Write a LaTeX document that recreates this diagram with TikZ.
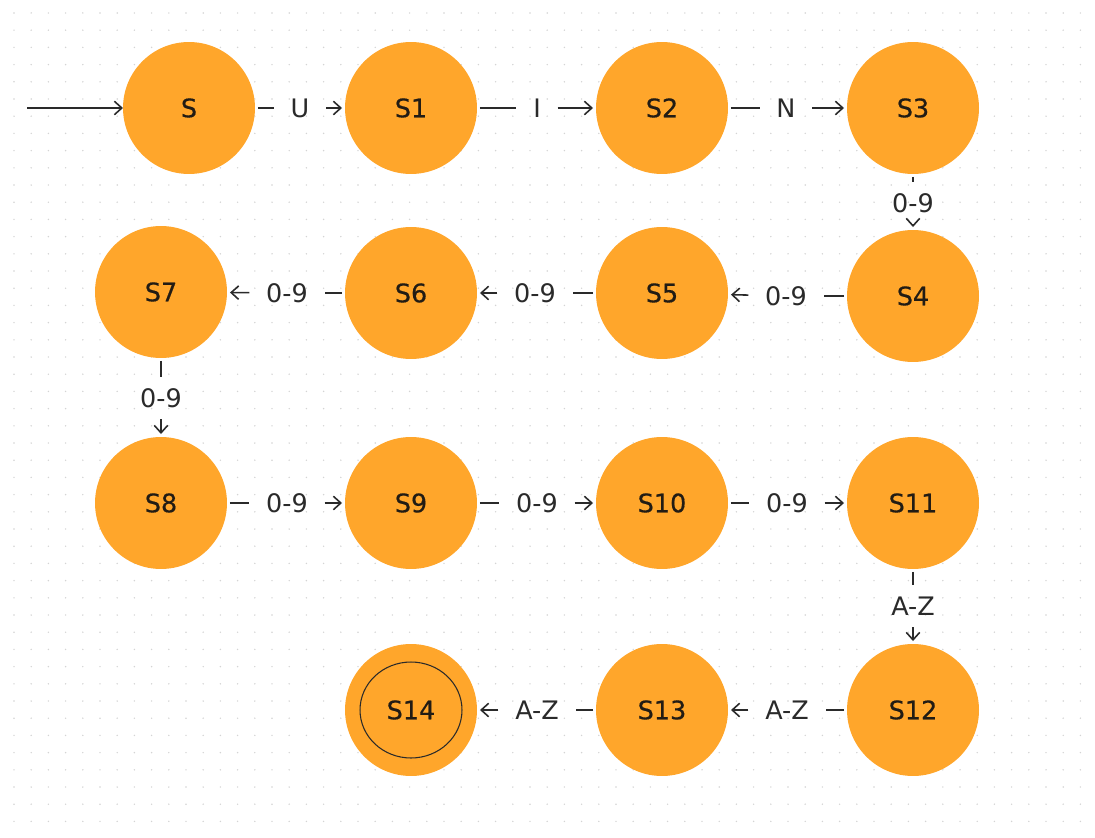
\documentclass[tikz,border=0pt]{standalone}
\usepackage{fontspec}
\setmainfont{DejaVu Sans}
\newfontfamily\statefont[FakeBold=0.5]{DejaVu Sans}
\usetikzlibrary{arrows.meta}
\definecolor{stateorange}{RGB}{255,166,43}
\definecolor{ink}{RGB}{42,42,42}
\definecolor{stateink}{RGB}{34,28,20}
\definecolor{griddot}{RGB}{212,212,212}
\begin{document}
\begin{tikzpicture}[x=0.02cm,y=-0.02cm,
  state/.style={circle, fill=stateorange, minimum size=2.64cm, inner sep=0pt, outer sep=0.06cm, text=stateink, font=\statefont\fontsize{14.5}{16}\selectfont},
  elabel/.style={inner xsep=0.33cm, inner ysep=0.23cm, text height=10.6pt, text depth=0pt, text=ink, font=\fontsize{14.5}{16}\selectfont},
  edge/.style={draw=ink, line width=0.9pt},
  arr/.style={edge, -{Straight Barb[length=0.15cm,width=0.27cm]}}
]
\useasboundingbox (0,0) rectangle (1095,838);
\fill[white] (0,0) rectangle (1095,838);
\foreach \i in {0,...,62}{\foreach \j in {0,...,47}{\fill[griddot] (14+17.2*\i,13+17.2*\j) circle (0.016cm);}}

% states
\node[state] (S)   at (189,108) {S};
\node[state] (S1)  at (411,108) {S1};
\node[state] (S2)  at (662,108) {S2};
\node[state] (S3)  at (913,108) {S3};
\node[state] (S4)  at (913,296) {S4};
\node[state] (S5)  at (662,293) {S5};
\node[state] (S6)  at (411,293) {S6};
\node[state] (S7)  at (161,292) {S7};
\node[state] (S8)  at (161,503) {S8};
\node[state] (S9)  at (411,503) {S9};
\node[state] (S10) at (662,503) {S10};
\node[state] (S11) at (913,503) {S11};
\node[state] (S12) at (913,710) {S12};
\node[state] (S13) at (662,710) {S13};
\node[state] (S14) at (411,710) {S14};
\draw[ink, line width=0.6pt] (S14.center) ellipse [x radius=1.02cm, y radius=0.96cm];

% start arrow
\coordinate (start) at (27,108);
\draw[arr, shorten >=-0.06cm] (start) -- (S);

% edge labels
\node[elabel] (lU)   at (300,108) {U};
\node[elabel] (lI)   at (537,108) {I};
\node[elabel] (lN)   at (786,108) {N};
\node[elabel] (l34)  at (913,203) {0-9};
\node[elabel] (l45)  at (786,296) {0-9};
\node[elabel] (l56)  at (535,293) {0-9};
\node[elabel] (l67)  at (287,293) {0-9};
\node[elabel] (l78)  at (161,398) {0-9};
\node[elabel] (l89)  at (287,503) {0-9};
\node[elabel] (l910) at (537,503) {0-9};
\node[elabel] (l1011) at (787,503) {0-9};
\node[elabel] (l1112) at (913,606) {A-Z};
\node[elabel] (l1213) at (787,710) {A-Z};
\node[elabel] (l1314) at (537,710) {A-Z};

% edges
\draw[edge] (S) -- (lU);     \draw[arr] (lU) -- (S1);
\draw[edge] (S1) -- (lI);    \draw[arr] (lI) -- (S2);
\draw[edge] (S2) -- (lN);    \draw[arr] (lN) -- (S3);
\draw[edge] (S3) -- (l34);   \draw[arr] (l34) -- (S4);
\draw[edge] (S4) -- (l45);   \draw[arr] (l45) -- (S5);
\draw[edge] (S5) -- (l56);   \draw[arr] (l56) -- (S6);
\draw[edge] (S6) -- (l67);   \draw[arr] (l67) -- (S7);
\draw[edge] (S7) -- (l78);   \draw[arr] (l78) -- (S8);
\draw[edge] (S8) -- (l89);   \draw[arr] (l89) -- (S9);
\draw[edge] (S9) -- (l910);  \draw[arr] (l910) -- (S10);
\draw[edge] (S10) -- (l1011); \draw[arr] (l1011) -- (S11);
\draw[edge] (S11) -- (l1112); \draw[arr] (l1112) -- (S12);
\draw[edge] (S12) -- (l1213); \draw[arr] (l1213) -- (S13);
\draw[edge] (S13) -- (l1314); \draw[arr] (l1314) -- (S14);
\end{tikzpicture}
\end{document}
